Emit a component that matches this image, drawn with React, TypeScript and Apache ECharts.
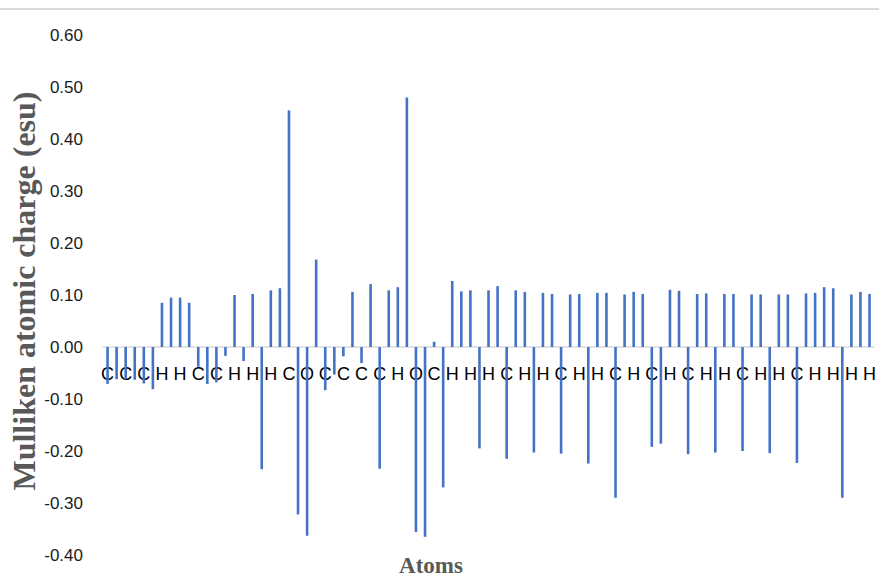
import React, { useEffect, useRef } from "react";
import * as echarts from "echarts";

const atoms: string[] = [
  "C", "C", "C", "C", "C", "C", "H", "H", "H", "H",
  "C", "C", "C", "C", "H", "C", "H", "C", "H", "H",
  "C", "O", "O", "H", "C", "C", "C", "H", "C", "H",
  "C", "H", "H", "C", "O", "O", "C", "C", "H", "H",
  "H", "C", "H", "H", "C", "H", "H", "C", "H", "H",
  "C", "H", "H", "C", "H", "H", "C", "H", "H", "H",
  "C", "C", "H", "H", "C", "H", "H", "C", "H", "H",
  "C", "H", "H", "C", "H", "H", "C", "H", "H", "H",
  "H", "C", "H", "H", "H",
];

const charges: number[] = [
  -0.071, -0.062, -0.062, -0.063, -0.070, -0.081, 0.085, 0.095, 0.095, 0.085,
  -0.038, -0.071, -0.068, -0.017, 0.100, -0.027, 0.102, -0.235, 0.109, 0.113,
  0.455, -0.322, -0.363, 0.168, -0.083, -0.053, -0.018, 0.106, -0.031, 0.121,
  -0.234, 0.109, 0.115, 0.480, -0.356, -0.365, 0.010, -0.270, 0.127, 0.107,
  0.109, -0.195, 0.109, 0.117, -0.215, 0.109, 0.106, -0.203, 0.104, 0.102,
  -0.205, 0.101, 0.102, -0.224, 0.104, 0.104, -0.290, 0.101, 0.106, 0.102,
  -0.192, -0.186, 0.110, 0.108, -0.206, 0.102, 0.103, -0.203, 0.102, 0.102,
  -0.200, 0.101, 0.101, -0.204, 0.101, 0.101, -0.223, 0.103, 0.104, 0.115,
  0.113, -0.290, 0.101, 0.106, 0.102,
];

const yTitle = "Mulliken atomic charge (esu)";
const xTitle = "Atoms";

export default function App() {
  const ref = useRef<HTMLDivElement>(null);

  useEffect(() => {
    document.body.style.margin = "0";
    if (!ref.current) return;
    const chart = echarts.init(ref.current, undefined, { renderer: "svg" });
    chart.setOption({
      animation: false,
      backgroundColor: "#ffffff",
      grid: { left: 103, right: 2, top: 35, bottom: 23, containLabel: false },
      xAxis: {
        type: "category",
        data: atoms,
        boundaryGap: true,
        offset: -208,
        axisLine: { show: true, onZero: false, lineStyle: { color: "#d9d9d9", width: 1.5 } },
        axisTick: { show: false },
        axisLabel: {
          interval: 1,
          margin: 18,
          color: "#000000",
          fontSize: 18,
          fontFamily: "Liberation Sans",
        },
        splitLine: { show: false },
      },
      yAxis: {
        type: "value",
        min: -0.4,
        max: 0.6,
        interval: 0.1,
        axisLine: { show: false },
        axisTick: { show: false },
        splitLine: { show: false },
        axisLabel: {
          margin: 20,
          color: "#1a1a1a",
          fontSize: 17,
          fontFamily: "Liberation Sans",
          formatter: (v: number) => v.toFixed(2),
        },
      },
      series: [
        {
          type: "bar",
          data: charges,
          barWidth: 2.6,
          itemStyle: { color: "#4472C4" },
        },
      ],
      graphic: [
        {
          type: "line",
          shape: { x1: 0, y1: 9, x2: 879, y2: 9 },
          style: { stroke: "#d9d9d9", lineWidth: 2 },
        },
        {
          type: "text",
          x: 24,
          y: 291,
          rotation: Math.PI / 2,
          style: {
            text: yTitle,
            font: 'bold 32px "Liberation Serif"',
            fill: "#595959",
            textAlign: "center",
            textVerticalAlign: "middle",
          },
        },
        {
          type: "text",
          x: 431,
          y: 565,
          style: {
            text: xTitle,
            font: 'bold 23px "Liberation Serif"',
            fill: "#595959",
            textAlign: "center",
            textVerticalAlign: "middle",
          },
        },
      ],
    });
    return () => chart.dispose();
  }, []);

  return <div ref={ref} style={{ width: 879, height: 578 }} />;
}
